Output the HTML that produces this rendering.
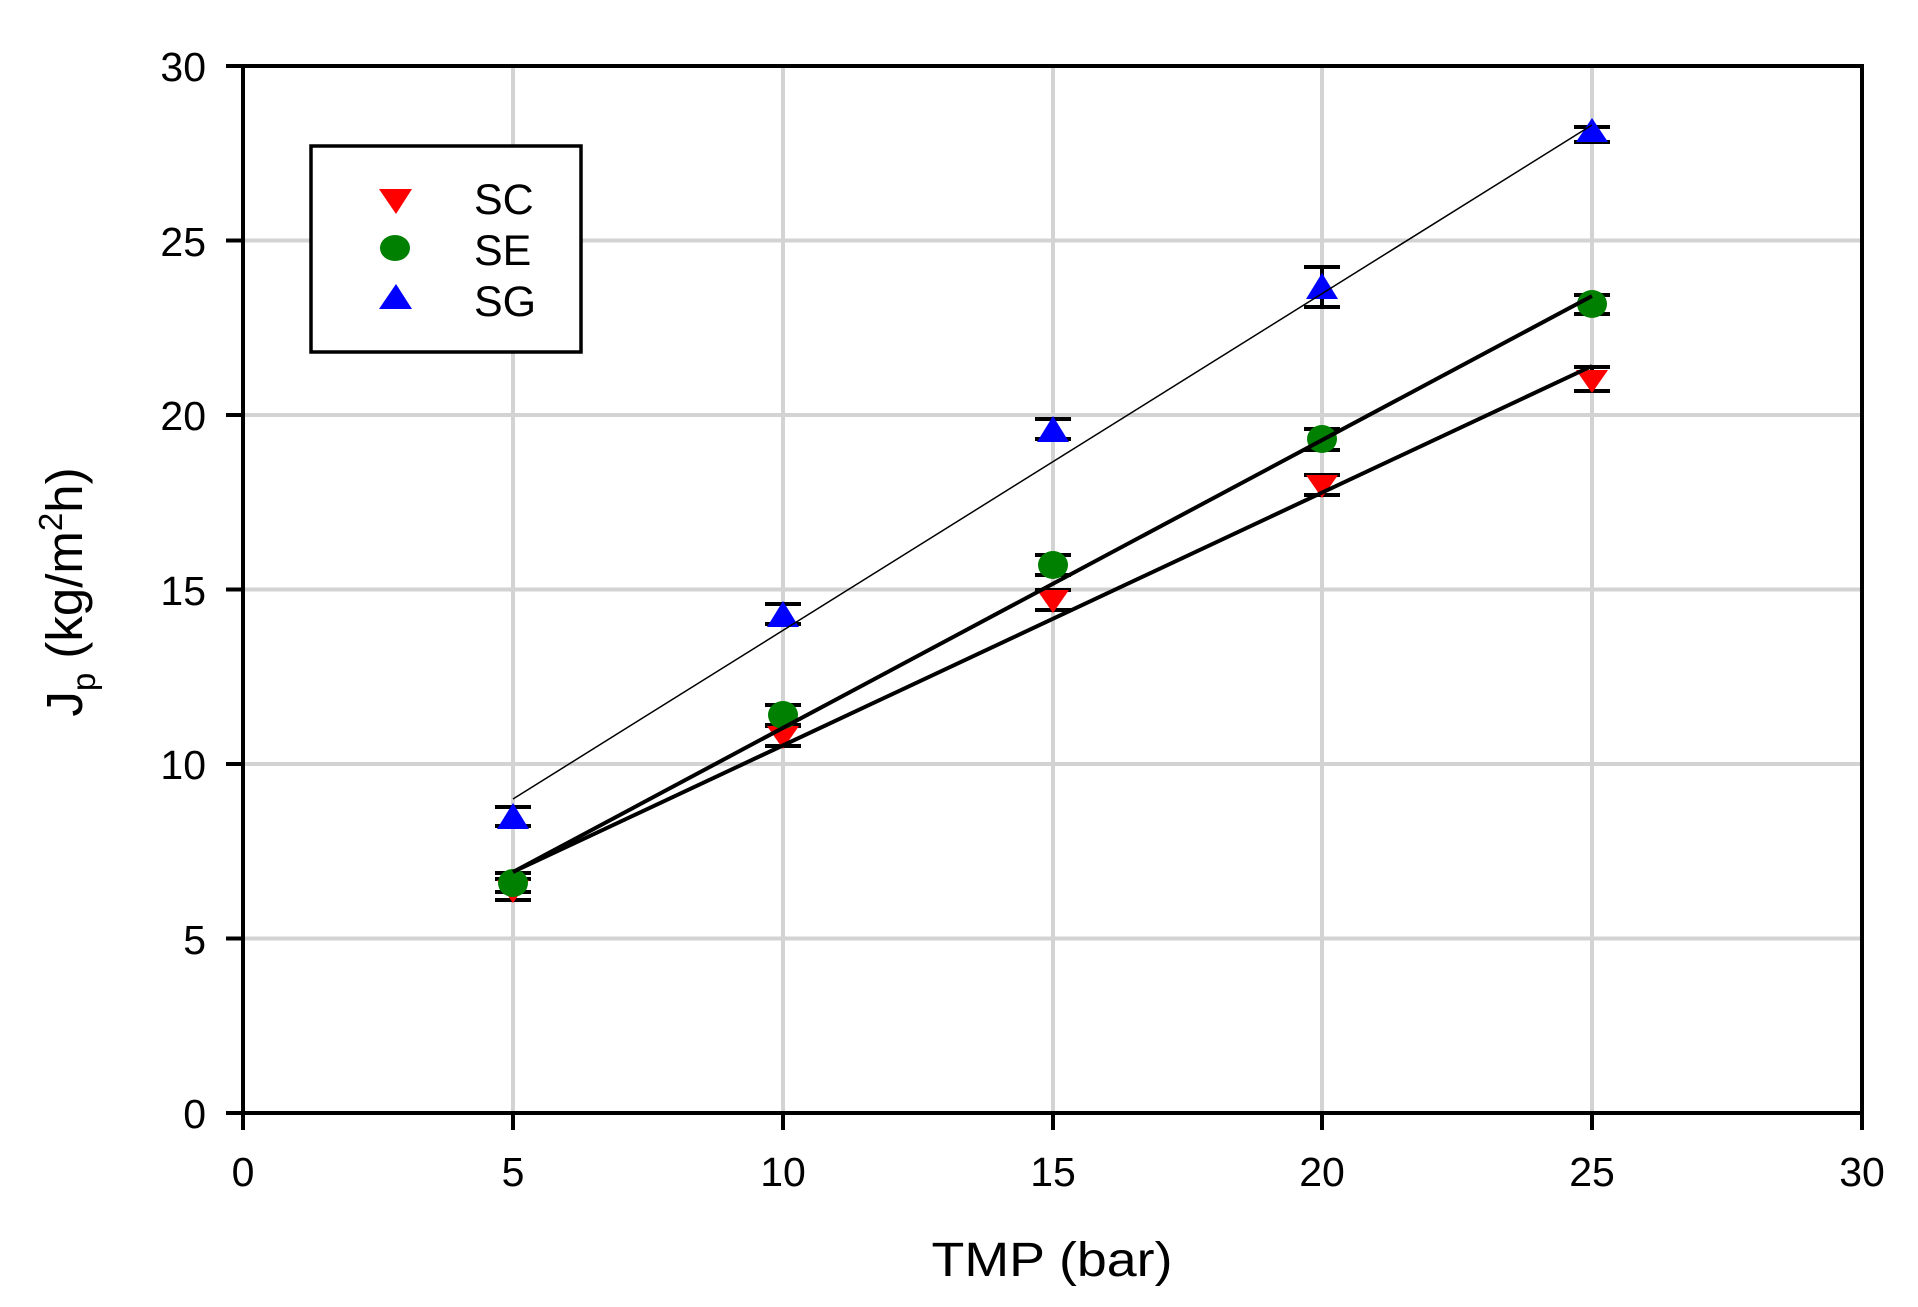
<!DOCTYPE html>
<html><head><meta charset="utf-8"><style>
html,body{margin:0;padding:0;background:#fff;}
svg{display:block;font-family:"Liberation Sans",Arial,sans-serif;}
</style></head><body>
<svg width="1918" height="1307" viewBox="0 0 1918 1307" xmlns="http://www.w3.org/2000/svg">
<rect width="1918" height="1307" fill="#fff"/>
<g stroke="#d3d3d3" stroke-width="4">
<line x1="513" y1="66" x2="513" y2="1113"/><line x1="783" y1="66" x2="783" y2="1113"/>
<line x1="1053" y1="66" x2="1053" y2="1113"/><line x1="1322" y1="66" x2="1322" y2="1113"/>
<line x1="1592" y1="66" x2="1592" y2="1113"/>
<line x1="243" y1="938.5" x2="1862" y2="938.5"/><line x1="243" y1="764" x2="1862" y2="764"/>
<line x1="243" y1="589.5" x2="1862" y2="589.5"/><line x1="243" y1="415" x2="1862" y2="415"/>
<line x1="243" y1="240.5" x2="1862" y2="240.5"/>
</g>
<g stroke="#000" stroke-width="4" fill="none">
<rect x="243" y="66" width="1619" height="1047"/>
<line x1="243" y1="1113" x2="243" y2="1130"/><line x1="513" y1="1113" x2="513" y2="1130"/>
<line x1="783" y1="1113" x2="783" y2="1130"/><line x1="1053" y1="1113" x2="1053" y2="1130"/>
<line x1="1322" y1="1113" x2="1322" y2="1130"/><line x1="1592" y1="1113" x2="1592" y2="1130"/>
<line x1="1862" y1="1113" x2="1862" y2="1130"/>
<line x1="226" y1="1113" x2="243" y2="1113"/><line x1="226" y1="938.5" x2="243" y2="938.5"/>
<line x1="226" y1="764" x2="243" y2="764"/><line x1="226" y1="589.5" x2="243" y2="589.5"/>
<line x1="226" y1="415" x2="243" y2="415"/><line x1="226" y1="240.5" x2="243" y2="240.5"/>
<line x1="226" y1="66" x2="243" y2="66"/>
</g>
<g font-size="41" fill="#000" text-anchor="end">
<text x="206" y="1128">0</text><text x="206" y="954">5</text><text x="206" y="779">10</text>
<text x="206" y="605">15</text><text x="206" y="430">20</text><text x="206" y="256">25</text>
<text x="206" y="81">30</text>
</g>
<g font-size="41" fill="#000" text-anchor="middle">
<text x="243" y="1186">0</text><text x="513" y="1186">5</text><text x="783" y="1186">10</text>
<text x="1053" y="1186">15</text><text x="1322" y="1186">20</text><text x="1592" y="1186">25</text>
<text x="1862" y="1186">30</text>
</g>
<text x="1052" y="1276" font-size="48" text-anchor="middle" textLength="241" lengthAdjust="spacingAndGlyphs">TMP (bar)</text>
<text transform="translate(82,592) rotate(-90)" font-size="51" text-anchor="middle">J<tspan font-size="33" dy="13">p</tspan><tspan dy="-13"> (kg/m</tspan><tspan font-size="33" dy="-20">2</tspan><tspan dy="20">h)</tspan></text>
<g stroke="#000" stroke-width="4">
<path d="M513 879V900M495 879H531M495 900H531"/>
<path d="M783 726V746M765 726H801M765 746H801"/>
<path d="M1053 590V610M1035 590H1071M1035 610H1071"/>
<path d="M1322 475V495M1304 475H1340M1304 495H1340"/>
<path d="M1592 367V391M1574 367H1610M1574 391H1610"/>
<path d="M513 873V892M495 873H531M495 892H531"/>
<path d="M783 705V725M765 705H801M765 725H801"/>
<path d="M1053 555V575M1035 555H1071M1035 575H1071"/>
<path d="M1322 429V450M1304 429H1340M1304 450H1340"/>
<path d="M1592 295V314M1574 295H1610M1574 314H1610"/>
<path d="M513 807V826M495 807H531M495 826H531"/>
<path d="M783 604V624M765 604H801M765 624H801"/>
<path d="M1053 419V439M1035 419H1071M1035 439H1071"/>
<path d="M1322 267V307M1304 267H1340M1304 307H1340"/>
<path d="M1592 127V142M1574 127H1610M1574 142H1610"/>
</g>
<g fill="#ff0000">
<path d="M497 880H529L513 903Z"/><path d="M767 726H799L783 749Z"/>
<path d="M1037 590H1069L1053 613Z"/><path d="M1306 475H1338L1322 498Z"/>
<path d="M1576 370H1608L1592 393Z"/>
</g>
<g fill="#008000">
<ellipse cx="513" cy="883" rx="15" ry="14"/><ellipse cx="783" cy="715" rx="15" ry="14"/>
<ellipse cx="1053" cy="565" rx="15" ry="14"/><ellipse cx="1322" cy="439" rx="15" ry="14"/>
<ellipse cx="1592" cy="304" rx="15" ry="14"/>
</g>
<g fill="#0000ff">
<path d="M497 829H529L513 803Z"/><path d="M767 627H799L783 601Z"/>
<path d="M1037 442H1069L1053 416Z"/><path d="M1306 299H1338L1322 273Z"/>
<path d="M1576 142H1608L1592 118Z"/>
</g>
<g stroke="#000" fill="none">
<line x1="513" y1="872" x2="1592" y2="366" stroke-width="4"/>
<line x1="513" y1="872" x2="1592" y2="296" stroke-width="4"/>
<line x1="513" y1="799" x2="1592" y2="125" stroke-width="1.5"/>
</g>
<rect x="311" y="146" width="270" height="206" fill="#fff" stroke="#000" stroke-width="3.5"/>
<path d="M379 189H412L396 214Z" fill="#ff0000"/>
<ellipse cx="395" cy="248" rx="15" ry="13" fill="#008000"/>
<path d="M379 309H412L396 284Z" fill="#0000ff"/>
<g font-size="43" fill="#000">
<text x="474" y="214">SC</text><text x="474" y="265">SE</text><text x="474" y="316">SG</text>
</g>
</svg>
</body></html>
